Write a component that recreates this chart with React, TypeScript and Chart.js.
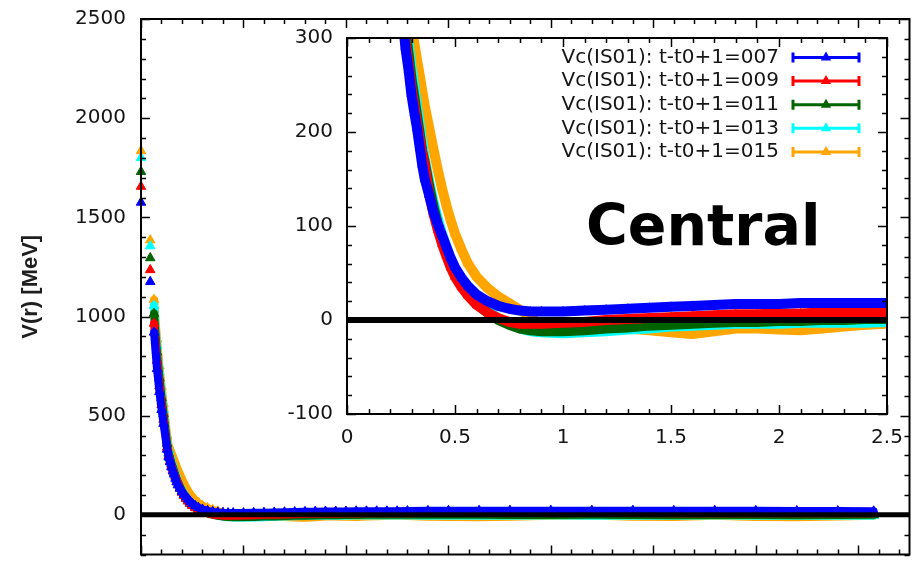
import React, { useEffect, useRef } from "react";
import { Chart, registerables } from "chart.js";

Chart.register(...registerables);

// Separation r [fm] shared by every time slice
const radii = [
  0, 0.09, 0.127, 0.156, 0.18, 0.201, 0.22,
  0.255, 0.27, 0.285, 0.298, 0.312, 0.324, 0.337, 0.348, 0.36,
  0.38, 0.4, 0.42, 0.44, 0.46, 0.48, 0.5,
  0.53, 0.56, 0.6, 0.65, 0.7, 0.75, 0.8, 0.85, 0.9,
  1.0, 1.1, 1.2, 1.3, 1.4, 1.5, 1.6, 1.7, 1.8, 1.9, 2.0, 2.1, 2.2, 2.3, 2.4, 2.5,
  2.6, 2.8, 3.0, 3.3, 3.6,
  4.0, 4.4, 4.8, 5.2, 5.6, 6.0, 6.4, 6.8, 7.15,
];

// Central potential Vc(r) [MeV] for each t - t0 + 1
const vc007 = [
  1575, 1175, 920, 736, 620, 530, 460,
  330, 290, 266, 240, 220, 204, 183, 165, 150,
  133, 115, 102, 90, 78, 66, 56,
  45, 36, 27, 20, 15, 12, 10, 9, 9,
  9, 10, 11, 12, 13, 14, 15, 16, 17, 17, 17, 18, 18, 18, 18, 18,
  19, 20, 20, 21, 21,
  21, 21, 21, 20, 20, 20, 19, 19, 18,
];
const vc009 = [
  1655, 1235, 965, 778, 650, 555, 480,
  340, 298, 272, 248, 228, 210, 193, 178, 165,
  134, 113, 96, 81, 68, 56, 46,
  35, 26, 16, 8, 2, -2, -4, -4, -4,
  -3, -2, 0, 1, 2, 3, 4, 5, 6, 6, 7, 7, 8, 8, 8, 8,
  8, 9, 9, 9, 9,
  9, 9, 9, 8, 8, 8, 8, 8, 8,
];
const vc011 = [
  1730, 1295, 1015, 820, 690, 590, 510,
  360, 310, 284, 258, 237, 218, 198, 180, 168,
  143, 121, 103, 85, 71, 59, 49,
  37, 27, 17, 8, 0, -5, -9, -11, -12,
  -12, -11, -9, -8, -6, -5, -4, -3, -2, -2, -1, -1, 0, 0, 1, 1,
  1, 1, 0, 0, -1,
  -1, 0, -1, -2, -1, -1, -2, -1, 0,
];
const vc013 = [
  1800, 1355, 1055, 853, 720, 615, 530,
  375, 325, 296, 270, 248, 228, 208, 190, 172,
  148, 126, 108, 92, 78, 65, 55,
  42, 31, 20, 10, 2, -4, -9, -12, -13,
  -14, -13, -12, -10, -9, -7, -6, -5, -4, -4, -4, -3, -3, -3, -3, -2,
  -3, -4, -4, -5, -4,
  -3, -4, -5, -4, -3, -4, -5, -5, -4,
];
const vc015 = [
  1835, 1385, 1085, 886, 750, 645, 560,
  400, 350, 330, 312, 294, 277, 260, 244, 228,
  205, 182, 160, 140, 122, 106, 92,
  75, 60, 46, 34, 25, 18, 11, 3, -6,
  -11, -11, -10, -9, -11, -13, -15, -12, -9, -9, -10, -11, -9, -7, -5, -4,
  -6, -10, -11, -12, -10,
  -5, -4, -10, -11, -5, -11, -12, -9, -5,
];

const seriesLabels = [
  "Vc(IS01): t-t0+1=007",
  "Vc(IS01): t-t0+1=009",
  "Vc(IS01): t-t0+1=011",
  "Vc(IS01): t-t0+1=013",
  "Vc(IS01): t-t0+1=015",
];
const seriesValues = [vc007, vc009, vc011, vc013, vc015];
const seriesColors = ["#0000ff", "#ff0000", "#006400", "#00ffff", "#ffa500"];

// Axis ticks
const mainXTicks = [0, 1, 2, 3, 4, 5, 6, 7];
const mainYTicks = [0, 500, 1000, 1500, 2000, 2500];
const insetXTicks = [0, 0.5, 1, 1.5, 2, 2.5];
const insetYTicks = [-100, 0, 100, 200, 300];

const TICK_FONT = { family: "DejaVu Sans", size: 20 };
const TEXT_COLOR = "#151515";
const plainLabel = (v: number | string) => String(v);

function buildDatasets(lineWidth: number, radius: number, clip: boolean) {
  return seriesLabels.map((label, i) => ({
    label,
    data: radii.map((r, j) => ({ x: r, y: seriesValues[i][j] })),
    showLine: true,
    borderColor: seriesColors[i],
    backgroundColor: seriesColors[i],
    borderWidth: lineWidth,
    borderJoinStyle: "round" as const,
    borderCapStyle: "round" as const,
    pointStyle: "triangle" as const,
    pointRadius: radius,
    pointBorderWidth: 1,
    pointBorderColor: seriesColors[i],
    pointBackgroundColor: seriesColors[i],
    clip: clip ? undefined : (false as const),
    segment: {
      // the innermost lattice points stand alone as markers
      borderColor: (c: any) => (c.p1.parsed.x <= 0.13 ? "rgba(0,0,0,0)" : undefined),
    },
  }));
}

type FrameOpts = {
  xMajor: number[];
  yMajor: number[];
  xMinor: number;
  yMinor: number;
  zeroWidth: number;
};

// gnuplot-style frame: inward ticks on all four sides plus a heavy V = 0 line
function framePlugin(o: FrameOpts) {
  return {
    id: "frameTicks",
    afterDatasetsDraw(chart: any) {
      const { ctx, chartArea } = chart;
      const { left, right, top, bottom } = chartArea;
      const xs = chart.scales.x;
      const ys = chart.scales.y;
      ctx.save();

      const y0 = ys.getPixelForValue(0);
      ctx.strokeStyle = "#000";
      ctx.lineCap = "butt";
      ctx.lineWidth = o.zeroWidth;
      ctx.beginPath();
      ctx.moveTo(left, y0);
      ctx.lineTo(right, y0);
      ctx.stroke();

      const near = (v: number, arr: number[]) => arr.some((m) => Math.abs(m - v) < 1e-6);
      ctx.lineWidth = 1.5;
      ctx.beginPath();
      const nx = Math.floor((xs.max - xs.min) / o.xMinor + 1e-6);
      for (let k = 0; k <= nx; k++) {
        const v = xs.min + k * o.xMinor;
        const px = Math.round(xs.getPixelForValue(v)) + 0.5;
        const len = near(v, o.xMajor) ? 9 : 5;
        ctx.moveTo(px, bottom);
        ctx.lineTo(px, bottom - len);
        ctx.moveTo(px, top);
        ctx.lineTo(px, top + len);
      }
      const ny = Math.floor((ys.max - ys.min) / o.yMinor + 1e-6);
      for (let k = 0; k <= ny; k++) {
        const v = ys.min + k * o.yMinor;
        const py = Math.round(ys.getPixelForValue(v)) + 0.5;
        const len = near(v, o.yMajor) ? 9 : 5;
        ctx.moveTo(left, py);
        ctx.lineTo(left + len, py);
        ctx.moveTo(right, py);
        ctx.lineTo(right - len, py);
      }
      ctx.stroke();

      ctx.lineWidth = 2;
      ctx.strokeRect(left, top, right - left, bottom - top);
      ctx.restore();
    },
  };
}

// Key in the upper right of the inset and the panel caption
const insetDecor = {
  id: "insetDecor",
  afterDraw(chart: any) {
    const { ctx, chartArea } = chart;
    ctx.save();
    chart.data.datasets.forEach((ds: any, i: number) => {
      const y = chartArea.top + 19.5 + i * 23.6;
      ctx.font = '20px "DejaVu Sans"';
      ctx.fillStyle = TEXT_COLOR;
      ctx.textAlign = "right";
      ctx.textBaseline = "middle";
      ctx.fillText(ds.label, chartArea.right - 108, y);

      const x0 = chartArea.right - 94;
      const x1 = chartArea.right - 28;
      const cx = (x0 + x1) / 2;
      ctx.strokeStyle = ds.borderColor;
      ctx.fillStyle = ds.borderColor;
      ctx.lineWidth = 3;
      ctx.beginPath();
      ctx.moveTo(x0, y);
      ctx.lineTo(x1, y);
      ctx.moveTo(x0, y - 5);
      ctx.lineTo(x0, y + 5);
      ctx.moveTo(x1, y - 5);
      ctx.lineTo(x1, y + 5);
      ctx.stroke();
      ctx.beginPath();
      ctx.moveTo(cx, y - 6);
      ctx.lineTo(cx + 5.2, y + 3);
      ctx.lineTo(cx - 5.2, y + 3);
      ctx.closePath();
      ctx.fill();
    });

    ctx.font = 'bold 57px "DejaVu Sans"';
    ctx.fillStyle = "#000";
    ctx.textAlign = "left";
    ctx.textBaseline = "alphabetic";
    ctx.fillText("Central", chartArea.left + 239, chartArea.top + 207);
    ctx.restore();
  },
};

export default function App() {
  const mainRef = useRef<HTMLCanvasElement>(null);
  const insetRef = useRef<HTMLCanvasElement>(null);

  useEffect(() => {
    const main = new Chart(mainRef.current as HTMLCanvasElement, {
      type: "scatter",
      data: { datasets: buildDatasets(8, 5.5, false) as any },
      options: {
        responsive: false,
        animation: false,
        events: [],
        layout: { padding: { top: 19, right: 5, bottom: 2, left: 0 } },
        plugins: { legend: { display: false }, tooltip: { enabled: false } },
        scales: {
          x: {
            type: "linear",
            min: 0,
            max: 7.5,
            display: false,
          },
          y: {
            type: "linear",
            min: -200,
            max: 2500,
            afterBuildTicks: (s: any) => {
              s.ticks = mainYTicks.map((v) => ({ value: v }));
            },
            afterFit: (s: any) => {
              s.width = 141;
              s.paddingTop = 0;
              s.paddingBottom = 0;
            },
            grid: { display: false, drawTicks: false },
            border: { display: false },
            ticks: { padding: 15, font: TICK_FONT, color: TEXT_COLOR, callback: plainLabel },
            title: {
              display: true,
              text: "V(r) [MeV]",
              color: "#1e1e1e",
              font: { family: "Liberation Sans", size: 22, weight: "bold" },
              padding: { top: 18, bottom: 0 },
            },
          },
        },
      },
      plugins: [
        framePlugin({ xMajor: mainXTicks, yMajor: mainYTicks, xMinor: 0.2, yMinor: 100, zeroWidth: 5 }),
      ],
    });

    const inset = new Chart(insetRef.current as HTMLCanvasElement, {
      type: "scatter",
      data: { datasets: buildDatasets(10, 5, true) as any },
      options: {
        responsive: false,
        animation: false,
        events: [],
        layout: { padding: { top: 18, right: 23, bottom: 0, left: 0 } },
        plugins: { legend: { display: false }, tooltip: { enabled: false } },
        scales: {
          x: {
            type: "linear",
            min: 0,
            max: 2.5,
            afterBuildTicks: (s: any) => {
              s.ticks = insetXTicks.map((v) => ({ value: v }));
            },
            afterFit: (s: any) => {
              s.height = 46;
              s.paddingLeft = 0;
              s.paddingRight = 0;
            },
            grid: { display: false, drawTicks: false },
            border: { display: false },
            ticks: {
              padding: 12,
              font: TICK_FONT,
              color: TEXT_COLOR,
              maxRotation: 0,
              autoSkip: false,
              callback: plainLabel,
            },
          },
          y: {
            type: "linear",
            min: -100,
            max: 300,
            afterBuildTicks: (s: any) => {
              s.ticks = insetYTicks.map((v) => ({ value: v }));
            },
            afterFit: (s: any) => {
              s.width = 87;
              s.paddingTop = 0;
              s.paddingBottom = 0;
            },
            grid: { display: false, drawTicks: false },
            border: { display: false },
            ticks: { padding: 14, font: TICK_FONT, color: TEXT_COLOR, callback: plainLabel },
          },
        },
      },
      plugins: [
        framePlugin({ xMajor: insetXTicks, yMajor: insetYTicks, xMinor: 0.1, yMinor: 20, zeroWidth: 6 }),
        insetDecor,
      ],
    });

    return () => {
      main.destroy();
      inset.destroy();
    };
  }, []);

  return (
    <div
      style={{
        position: "fixed",
        left: 0,
        top: 0,
        width: 916,
        height: 561,
        background: "#ffffff",
        overflow: "hidden",
      }}
    >
      <canvas
        ref={mainRef}
        width={916}
        height={561}
        style={{ position: "absolute", left: 0, top: 0 }}
      />
      <canvas
        ref={insetRef}
        width={650}
        height={440}
        style={{ position: "absolute", left: 260, top: 20 }}
      />
    </div>
  );
}
